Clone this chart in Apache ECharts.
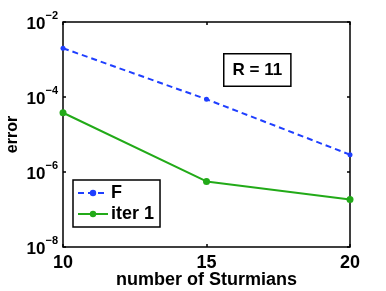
<!DOCTYPE html>
<html><head><meta charset="utf-8">
<script src="https://cdn.jsdelivr.net/npm/echarts@6/dist/echarts.min.js"></script>
<style>html,body{margin:0;padding:0;background:#fff}#c{width:386px;height:291px}</style>
</head><body><div id="c"></div>
<script>
var xValues = [10, 15, 20];
var seriesF = [2.0e-3, 8.7e-5, 2.9e-6];
var seriesIter1 = [3.8e-5, 5.6e-7, 1.86e-7];
var seriesNames = ['F', 'iter 1'];
var xTicks = [10, 15, 20];
var yExponents = [-8, -6, -4, -2];
var annotation = 'R = 11';

var FONT = 'Liberation Sans, Arial, Helvetica, sans-serif';
var chart = echarts.init(document.getElementById('c'));
function pairs(ys){ return xValues.map(function(x,i){ return [x, ys[i]]; }); }
var tickStyle = { inside: true, length: 3, lineStyle: { color: '#000', width: 1.5 } };
chart.setOption({
  animation: false,
  backgroundColor: '#fff',
  grid: { left: 63, right: 36, top: 22, bottom: 44, show: true, borderColor: '#000', borderWidth: 1.5,
          containLabel: false, outerBoundsMode: 'none' },
  xAxis: [{
    type: 'value', min: 10, max: 20, interval: 5,
    name: 'number of Sturmians', nameLocation: 'middle', nameGap: 24, nameMoveOverlap: false,
    nameTextStyle: { fontFamily: FONT, fontWeight: 'bold', fontSize: 18, color: '#000' },
    axisLine: { show: false },
    axisTick: tickStyle,
    splitLine: { show: false },
    axisLabel: { margin: 7, fontFamily: FONT, fontWeight: 'bold', fontSize: 18, color: '#000',
      formatter: function(v){ return xTicks.indexOf(v) >= 0 ? String(v) : ''; } }
  }, {
    type: 'value', min: 10, max: 20, interval: 5, position: 'top',
    axisLine: { show: false }, axisTick: tickStyle, splitLine: { show: false }, axisLabel: { show: false }
  }],
  yAxis: [{
    type: 'log', logBase: 10, min: 1e-8, max: 1e-2, interval: 2,
    name: 'error', nameLocation: 'middle', nameGap: 42, nameRotate: 90, nameMoveOverlap: false,
    nameTextStyle: { fontFamily: FONT, fontWeight: 'bold', fontSize: 16, color: '#000' },
    axisLine: { show: false },
    axisTick: tickStyle,
    splitLine: { show: false },
    axisLabel: { margin: 5,
      formatter: function(v){
        var e = Math.round(Math.log10(v));
        return '{b|10}{s|\u2212' + Math.abs(e) + '}';
      },
      rich: {
        b: { fontFamily: FONT, fontWeight: 'bold', fontSize: 17, color: '#000', padding: [5,0,0,0] },
        s: { fontFamily: FONT, fontWeight: 'bold', fontSize: 11, color: '#000', padding: [0,0,12,0] }
      }
    }
  }, {
    type: 'log', logBase: 10, min: 1e-8, max: 1e-2, interval: 2, position: 'right',
    axisLine: { show: false }, axisTick: tickStyle, splitLine: { show: false }, axisLabel: { show: false }
  }],
  legend: {
    left: 73, top: 180, orient: 'vertical',
    padding: [4, 6, 4, 4],
    itemGap: 3,
    itemWidth: 30, itemHeight: 8,
    backgroundColor: '#fff', borderColor: '#000', borderWidth: 1.5,
    textStyle: { fontFamily: FONT, fontWeight: 'bold', fontSize: 18, color: '#000', padding: [0,0,0,-2] },
    data: seriesNames
  },
  graphic: [{
    type: 'text', left: 223, top: 53, z: 10,
    style: { text: annotation, fontFamily: FONT, fontWeight: 'bold', fontSize: 17, fill: '#000',
      backgroundColor: '#fff', borderColor: '#000', borderWidth: 1.5, padding: [7, 8, 7, 8] }
  }],
  series: [
    { name: seriesNames[0], type: 'line', data: pairs(seriesF), symbol: 'circle', symbolSize: 5,
      itemStyle: { color: '#1f3fff' }, lineStyle: { color: '#1f3fff', width: 2, type: [6, 4] } },
    { name: seriesNames[1], type: 'line', data: pairs(seriesIter1), symbol: 'circle', symbolSize: 7,
      itemStyle: { color: '#22aa18' }, lineStyle: { color: '#22aa18', width: 2 } }
  ]
});
</script></body></html>
